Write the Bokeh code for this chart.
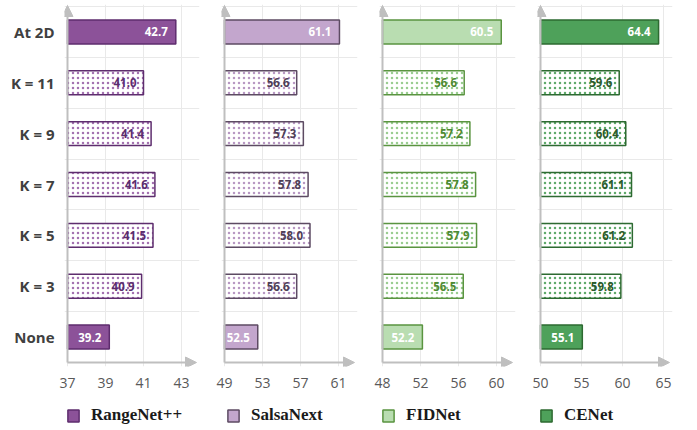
from bokeh.plotting import figure
from bokeh.models import Range1d, FixedTicker, Arrow, NormalHead, Legend, LegendItem, ColumnDataSource
from bokeh.layouts import row, column
from bokeh.embed import file_html
from bokeh.resources import INLINE
from bokeh.core.properties import value

categories = ["At 2D", "K = 11", "K = 9", "K = 7", "K = 5", "K = 3", "None"]
models = ["RangeNet++", "SalsaNext", "FIDNet", "CENet"]
rangenet = [42.7, 41.0, 41.4, 41.6, 41.5, 40.9, 39.2]
salsanext = [61.1, 56.6, 57.3, 57.8, 58.0, 56.6, 52.5]
fidnet = [60.5, 56.6, 57.2, 57.8, 57.9, 56.5, 52.2]
cenet = [64.4, 59.6, 60.4, 61.1, 61.2, 59.8, 55.1]
x_ticks = [[37, 39, 41, 43], [49, 53, 57, 61], [48, 52, 56, 60], [50, 55, 60, 65]]

series = [rangenet, salsanext, fidnet, cenet]
solid_rows = ["At 2D", "None"]

# ---- layout / style configuration ----
axis_start = [37, 49, 48, 50]
px_per_unit = [19.0, 9.5, 9.5, 8.2]
plot_px = [132, 133, 133, 132]          # from axis line to right edge of plot
fills = ["#8c5299", "#c3a6cd", "#b9ddb1", "#4ea15a"]
borders = ["#5e2d6e", "#5d4b63", "#5a9440", "#2d6a31"]
hatch_cols = ["#9a62a8", "#b08cbd", "#8fc884", "#4ea15a"]
dot_text = ["#5b2c6f", "#4f3f57", "#4e8a32", "#2b5a2b"]
left_b = [64, 10, 10, 10]
right_b = [12, 12, 12, 16]
PADL = 3
PADB = 4
PADT = 2
TOP_B = 4
FRAME_H = 362
BOTTOM_B = 30
H = TOP_B + FRAME_H + BOTTOM_B
FONT = "Open Sans"
GRID = "#e9e9e9"
AXIS = "#bfbfbf"

n = len(categories)
ypos = [n - 1 - i for i in range(n)]
ppu_y = (FRAME_H - PADB - PADT) / n

figs = []
for k in range(4):
    xlo = axis_start[k]
    ppu = px_per_unit[k]
    xhi = xlo + plot_px[k] / ppu
    frame_w = plot_px[k] + PADL
    p = figure(width=left_b[k] + frame_w + right_b[k], height=H,
               output_backend="svg", toolbar_location=None,
               x_range=Range1d(xlo - PADL / ppu, xhi),
               y_range=Range1d(-0.5 - PADB / ppu_y, n - 0.5 + PADT / ppu_y),
               min_border_left=left_b[k], min_border_right=right_b[k],
               min_border_top=TOP_B, min_border_bottom=BOTTOM_B)
    p.outline_line_color = None
    p.background_fill_color = "white"
    p.border_fill_color = "white"

    vals = series[k]
    solid = dict(y=[], v=[], t=[])
    dotted = dict(y=[], v=[], t=[])
    for c, y, v in zip(categories, ypos, vals):
        d = solid if c in solid_rows else dotted
        d["y"].append(y)
        d["v"].append(v)
        d["t"].append(f"{v:.1f}")
    s_src = ColumnDataSource(solid)
    d_src = ColumnDataSource(dotted)

    p.xgrid.ticker = FixedTicker(ticks=x_ticks[k])
    p.xgrid.grid_line_color = GRID
    p.xgrid.bounds = (-0.5, n - 0.5)
    p.ygrid.ticker = FixedTicker(ticks=[i + 0.5 for i in range(n)])
    p.ygrid.grid_line_color = GRID
    p.ygrid.bounds = (xlo, xhi)

    p.hbar(y="y", left=xlo, right="v", height=0.47, source=s_src,
           fill_color=fills[k], line_color=borders[k], line_width=1.5)
    p.hbar(y="y", left=xlo, right="v", height=0.47, source=d_src,
           fill_color="white", line_color=borders[k], line_width=1.5,
           hatch_pattern="dot", hatch_color=hatch_cols[k],
           hatch_scale=5, hatch_weight=0.6, hatch_alpha=0.9)

    p.text(x="v", y="y", text="t", source=s_src, x_offset=-8, text_align="right",
           text_baseline="middle", text_color="white", text_font=value(FONT),
           text_font_size="11.5px", text_font_style="bold")
    p.text(x="v", y="y", text="t", source=d_src, x_offset=-7, text_align="right",
           text_baseline="middle", text_color=dot_text[k], text_font=value(FONT),
           text_font_size="11.5px", text_font_style="bold")

    p.xaxis.ticker = FixedTicker(ticks=x_ticks[k])
    p.xaxis.axis_line_color = None
    p.xaxis.major_tick_line_color = None
    p.xaxis.minor_tick_line_color = None
    p.xaxis.major_tick_out = 0
    p.xaxis.major_label_standoff = 11
    p.xaxis.major_label_text_font = FONT
    p.xaxis.major_label_text_font_size = "14px"
    p.xaxis.major_label_text_color = "#595959"

    if k == 0:
        p.yaxis.ticker = FixedTicker(ticks=ypos)
        p.yaxis.major_label_overrides = {y: c for y, c in zip(ypos, categories)}
        p.yaxis.axis_line_color = None
        p.yaxis.major_tick_line_color = None
        p.yaxis.minor_tick_line_color = None
        p.yaxis.major_tick_out = 0
        p.yaxis.major_label_standoff = 10
        p.yaxis.major_label_text_font = FONT
        p.yaxis.major_label_text_font_size = "15px"
        p.yaxis.major_label_text_font_style = "bold"
        p.yaxis.major_label_text_color = "#404040"
    else:
        p.yaxis.visible = False

    p.add_layout(Arrow(end=NormalHead(size=11, fill_color=AXIS, line_color=AXIS),
                       x_start=xlo, y_start=-0.5, x_end=xlo + (plot_px[k] - 3) / ppu, y_end=-0.5,
                       line_color=AXIS, line_width=2))
    p.add_layout(Arrow(end=NormalHead(size=11, fill_color=AXIS, line_color=AXIS),
                       x_start=xlo, y_start=-0.5, x_end=xlo, y_end=n - 0.5 + 1 / ppu_y,
                       line_color=AXIS, line_width=2))
    figs.append(p)

# ---- legend strip ----
LEG_H = 29
total_w = sum(f.width for f in figs)
lg = figure(width=total_w, height=LEG_H, output_backend="svg", toolbar_location=None,
            x_range=Range1d(0, 1), y_range=Range1d(0, 1),
            min_border_left=0, min_border_right=0, min_border_top=0, min_border_bottom=0)
lg.axis.visible = False
lg.grid.visible = False
lg.outline_line_color = None
lg.border_fill_color = "white"
leg_x = [66, 226, 381, 539]
for k in range(4):
    r = lg.hbar(y=[0], left=axis_start[k], right=[series[k][0]], height=0.5,
                fill_color=fills[k], line_color=borders[k], line_width=1.5,
                visible=False)
    leg = Legend(items=[LegendItem(label=models[k], renderers=[r])],
                 location=(leg_x[k], 0), padding=0, margin=0, spacing=0,
                 glyph_width=14, glyph_height=15, label_standoff=11,
                 label_text_font="Liberation Serif", label_text_font_style="bold",
                 label_text_font_size="17px", label_text_color="#1a1a1a",
                 label_height=15, border_line_alpha=0, background_fill_alpha=0)
    lg.add_layout(leg)

layout = column(row(*figs, spacing=0), lg, spacing=0)
open("out.html", "w").write(file_html(layout, INLINE))
